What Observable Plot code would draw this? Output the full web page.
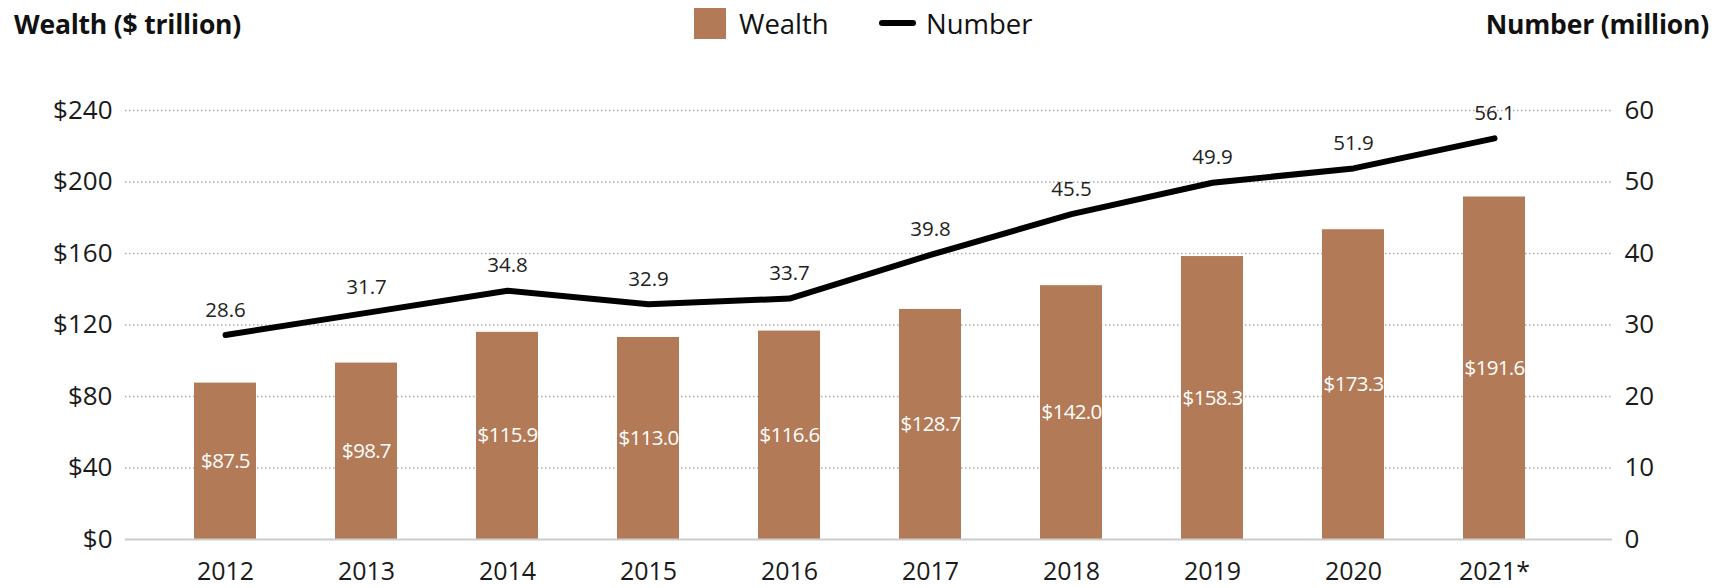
<!DOCTYPE html>
<html>
<head>
<meta charset="utf-8">
<script src="https://cdn.jsdelivr.net/npm/d3@7"></script>
<script src="https://cdn.jsdelivr.net/npm/@observablehq/plot@0.6"></script>
<style>
  body { margin: 0; background: #fff; font-family: "Open Sans", sans-serif; }
  #wrap { width: 1730px; height: 588px; position: relative; overflow: hidden; background: #fff; }
  #header { position: relative; height: 50px; }
  .title { position: absolute; top: 0; line-height: 48px; font-weight: 700; font-size: 26.5px; color: #111; white-space: nowrap; letter-spacing: -0.2px; }
  .leg { position: absolute; top: 0; line-height: 48px; font-size: 27.5px; color: #111; white-space: nowrap; }
  .swatch { position: absolute; left: 694px; top: 8px; width: 32px; height: 31px; background: #b37a57; }
  .legline { position: absolute; left: 879px; top: 20px; width: 37px; height: 6px; border-radius: 3px; background: #000; }
  .barlabel text { letter-spacing: -0.7px; }
</style>
</head>
<body>
<div id="wrap">
  <div id="header">
    <div class="title" style="left:14px">Wealth ($ trillion)</div>
    <div class="swatch"></div>
    <div class="leg" style="left:739px">Wealth</div>
    <div class="legline"></div>
    <div class="leg" style="left:926px">Number</div>
    <div class="title" style="right:21px">Number (million)</div>
  </div>
  <div id="chart"></div>
</div>
<script>
const years = ["2012", "2013", "2014", "2015", "2016", "2017", "2018", "2019", "2020", "2021*"];
const wealth = [87.5, 98.7, 115.9, 113.0, 116.6, 128.7, 142.0, 158.3, 173.3, 191.6];
const number = [28.6, 31.7, 34.8, 32.9, 33.7, 39.8, 45.5, 49.9, 51.9, 56.1];
const wealthTicks = [0, 40, 80, 120, 160, 200, 240];
const numberTicks = [0, 10, 20, 30, 40, 50, 60];

const ratio = 240 / 60;
const data = years.map((year, i) => ({ year, wealth: wealth[i], number: number[i] }));

const chart = Plot.plot({
  width: 1730,
  height: 538,
  marginTop: 60,
  marginBottom: 49,
  marginLeft: 125,
  marginRight: 118,
  style: { fontFamily: "'Open Sans', sans-serif", fontSize: "25px", color: "#1a1a1a", background: "#fff" },
  x: { domain: years, range: [153.4, 1565.4], paddingInner: 0.56, paddingOuter: 0.28, label: null },
  y: { domain: [0, 240], label: null },
  marks: [
    Plot.ruleY(wealthTicks.filter(d => d > 0), { stroke: "#aaa", strokeWidth: 1.5, strokeDasharray: "1.5,2.5" }),
    Plot.barY(data, { x: "year", y: "wealth", fill: "#b37a57" }),
    Plot.ruleY([0], { stroke: "#ccc", strokeWidth: 2 }),
    Plot.text(data, { x: "year", y: d => d.wealth / 2, text: d => "$" + d.wealth.toFixed(1), fill: "white", fontSize: 20.5, className: "barlabel" }),
    Plot.line(data, { x: "year", y: d => d.number * ratio, stroke: "#000", strokeWidth: 6, strokeLinecap: "round", strokeLinejoin: "round" }),
    Plot.text(data, { x: "year", y: d => d.number * ratio, text: d => d.number.toFixed(1), dy: -25, fontSize: 20.5, fill: "#222" }),
    Plot.axisY(wealthTicks, { anchor: "left", tickSize: 0, tickPadding: 13, tickFormat: d => "$" + d, fontSize: 26, label: null }),
    Plot.axisY(numberTicks.map(d => d * ratio), { anchor: "right", tickSize: 0, tickPadding: 12, tickFormat: d => String(d / ratio), fontSize: 26, label: null }),
    Plot.axisX({ tickSize: 0, tickPadding: 23, fontSize: 25, label: null })
  ]
});
document.getElementById("chart").appendChild(chart);
</script>
</body>
</html>
